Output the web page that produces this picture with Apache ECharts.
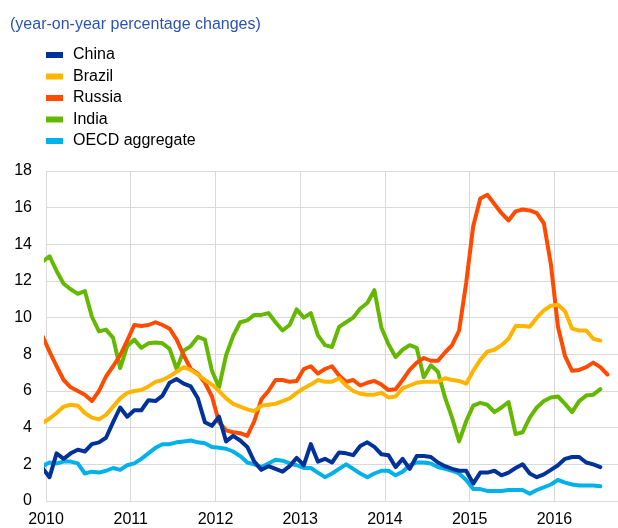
<!DOCTYPE html>
<html lang="en">
<head>
    <meta charset="UTF-8">
    <title>BRIC and OECD growth</title>
    <script src="https://cdn.jsdelivr.net/npm/echarts@6/dist/echarts.min.js"></script>
    <style>
        body{
            margin: 0;
            background-color: #ffffff;
        }
        #main{
            width: 618px;
            height: 528px;
        }
    </style>
</head>
<body>
<div id="main"></div>
<script type="text/javascript">
    // monthly observations, Dec 2009 .. Aug 2016 (first one is clipped by the axis)
    var seriesNames = ['China', 'Brazil', 'Russia', 'India', 'OECD aggregate'];
    var colors = ['#003299', '#ffb400', '#ff4b00', '#65b800', '#00b1ea'];
    var yTicks = [0, 2, 4, 6, 8, 10, 12, 14, 16, 18];
    var yearLabels = ['2010', '2011', '2012', '2013', '2014', '2015', '2016'];

    var china = [1.8, 1.3, 2.6, 2.3, 2.6, 2.8, 2.7, 3.1, 3.2, 3.45, 4.3, 5.1, 4.6,
        4.95, 4.95, 5.5, 5.45, 5.75, 6.45, 6.65, 6.4, 6.25, 5.6, 4.3, 4.1,
        4.6, 3.25, 3.55, 3.3, 2.95, 2.15, 1.7, 1.9, 1.75, 1.6, 1.9, 2.35,
        1.95, 3.1, 2.15, 2.3, 2.1, 2.65, 2.6, 2.5, 3.0, 3.2, 2.95, 2.55,
        2.5, 1.85, 2.3, 1.75, 2.45, 2.45, 2.4, 2.1, 1.9, 1.75, 1.65, 1.65,
        0.95, 1.55, 1.55, 1.65, 1.4, 1.55, 1.8, 2.0, 1.5, 1.3, 1.45, 1.7,
        1.95, 2.3, 2.4, 2.4, 2.1, 2.0, 1.85];
    var brazil = [4.25, 4.5, 4.8, 5.15, 5.25, 5.2, 4.8, 4.55, 4.45, 4.7, 5.15, 5.6, 5.9,
        6.0, 6.05, 6.25, 6.5, 6.6, 6.8, 7.05, 7.3, 7.15, 6.9, 6.6, 6.35,
        6.0, 5.6, 5.3, 5.15, 5.0, 4.9, 5.2, 5.25, 5.3, 5.45, 5.6, 5.9,
        6.15, 6.35, 6.6, 6.5, 6.5, 6.7, 6.3, 6.0, 5.85, 5.8, 5.8, 5.9,
        5.65, 5.7, 6.15, 6.3, 6.45, 6.5, 6.5, 6.5, 6.7, 6.6, 6.55, 6.4,
        7.1, 7.7, 8.15, 8.25, 8.5, 8.85, 9.55, 9.55, 9.5, 10.0, 10.4, 10.65,
        10.7, 10.35, 9.4, 9.3, 9.3, 8.85, 8.75];
    var russia = [9.0, 8.15, 7.35, 6.6, 6.2, 6.0, 5.8, 5.45, 6.0, 6.8, 7.35, 7.95, 8.75,
        9.6, 9.55, 9.6, 9.75, 9.6, 9.4, 8.8, 7.95, 7.2, 6.95, 6.45, 5.7,
        4.3, 3.85, 3.75, 3.7, 3.55, 4.35, 5.55, 6.0, 6.6, 6.6, 6.5, 6.55,
        7.2, 7.35, 6.95, 7.2, 7.35, 6.85, 6.5, 6.6, 6.3, 6.45, 6.55, 6.35,
        6.05, 6.1, 6.6, 7.15, 7.55, 7.8, 7.65, 7.65, 8.1, 8.5, 9.3, 11.9,
        15.0, 16.5, 16.7, 16.2, 15.7, 15.3, 15.8, 15.9, 15.85, 15.7, 15.15, 12.9,
        9.5, 7.9, 7.1, 7.15, 7.3, 7.55, 7.3, 6.9];
    var india = [13.05, 13.35, 12.55, 11.85, 11.55, 11.3, 11.45, 10.05, 9.25, 9.35, 8.9, 7.25, 8.45,
        8.8, 8.35, 8.6, 8.65, 8.6, 8.3, 7.2, 8.2, 8.45, 8.95, 8.8, 7.1,
        6.2, 7.95, 9.0, 9.75, 9.85, 10.15, 10.15, 10.25, 9.75, 9.3, 9.6, 10.45,
        10.0, 10.25, 9.05, 8.5, 8.4, 9.5, 9.75, 10.0, 10.5, 10.8, 11.5, 9.45,
        8.55, 7.85, 8.25, 8.5, 8.35, 6.75, 7.4, 7.05, 5.65, 4.55, 3.25, 4.35,
        5.2, 5.35, 5.25, 4.85, 5.1, 5.4, 3.65, 3.75, 4.55, 5.1, 5.45, 5.65,
        5.7, 5.3, 4.85, 5.45, 5.75, 5.8, 6.1];
    var oecd = [1.9, 2.1, 2.05, 2.15, 2.15, 2.05, 1.5, 1.6, 1.55, 1.65, 1.8, 1.7, 1.95,
        2.05, 2.3, 2.6, 2.9, 3.1, 3.1, 3.2, 3.25, 3.3, 3.2, 3.15, 2.95,
        2.9, 2.85, 2.7, 2.45, 2.1, 2.0, 1.85, 2.05, 2.25, 2.2, 2.05, 1.95,
        1.8, 1.8, 1.55, 1.3, 1.5, 1.75, 2.0, 1.75, 1.5, 1.3, 1.5, 1.65,
        1.65, 1.4, 1.6, 1.95, 2.1, 2.1, 2.05, 1.85, 1.75, 1.65, 1.5, 1.15,
        0.65, 0.65, 0.55, 0.55, 0.55, 0.6, 0.6, 0.6, 0.4, 0.6, 0.75, 0.9,
        1.15, 1.0, 0.9, 0.85, 0.85, 0.85, 0.8];

    // month labels starting Dec 2009
    var months = [];
    for (var i = 0; i < 81; i++) {
        var m = 11 + i;
        var y = 2009 + Math.floor(m / 12);
        months.push(y + '-' + ('0' + (m % 12 + 1)).slice(-2));
    }
    // mid-month position as decimal year
    function monthPos(s) {
        var p = s.split('-');
        return +p[0] + (+p[1] - 0.5) / 12;
    }
    function pairs(vals) {
        return vals.map(function (v, k) { return [monthPos(months[k]), v]; });
    }

    var allData = [china, brazil, russia, india, oecd];
    var series = [];
    for (var s = 0; s < seriesNames.length; s++) {
        series.push({
            name: seriesNames[s],
            type: 'line',
            data: pairs(allData[s]),
            showSymbol: false,
            symbol: 'none',
            clip: true,
            lineStyle: {width: 4, color: colors[s], cap: 'round', join: 'round'},
            itemStyle: {color: colors[s]},
            z: 10 - s
        });
    }

    var font = 'Arial, Liberation Sans';
    var myChart = echarts.init(document.getElementById('main'));
    var option = {
        animation: false,
        backgroundColor: '#ffffff',
        title: {
            text: '(year-on-year percentage changes)',
            left: 10,
            top: 17,
            padding: 0,
            textStyle: {
                fontFamily: font,
                fontSize: 16,
                fontWeight: 'normal',
                color: '#2b54b0'
            }
        },
        legend: {
            orient: 'vertical',
            left: 46,
            top: 46,
            padding: 0,
            icon: 'rect',
            itemWidth: 17,
            itemHeight: 6,
            itemGap: 3.5,
            data: seriesNames,
            textStyle: {
                fontFamily: font,
                fontSize: 16,
                lineHeight: 18,
                color: '#000',
                padding: [0, 0, 0, 5]
            }
        },
        grid: {
            left: 46,
            right: -3,
            top: 171,
            bottom: 24,
            containLabel: false
        },
        xAxis: {
            type: 'value',
            min: 2010,
            max: 2016.75,
            interval: 1,
            axisLine: {show: false},
            axisTick: {show: false},
            splitLine: {show: true, lineStyle: {color: '#d9d9d9', width: 1}},
            axisLabel: {
                margin: 11,
                fontFamily: font,
                fontSize: 16,
                color: '#000',
                showMaxLabel: false,
                formatter: function (v) {
                    var idx = yearLabels.indexOf(String(v));
                    return idx >= 0 ? yearLabels[idx] : '';
                }
            }
        },
        yAxis: {
            type: 'value',
            min: yTicks[0],
            max: yTicks[yTicks.length - 1],
            interval: 2,
            axisLine: {show: false},
            axisTick: {show: false},
            splitLine: {show: true, lineStyle: {color: '#d9d9d9', width: 1}},
            axisLabel: {
                margin: 14,
                fontFamily: font,
                fontSize: 16,
                color: '#000'
            }
        },
        series: series
    };
    myChart.setOption(option);
</script>
</body>
</html>
